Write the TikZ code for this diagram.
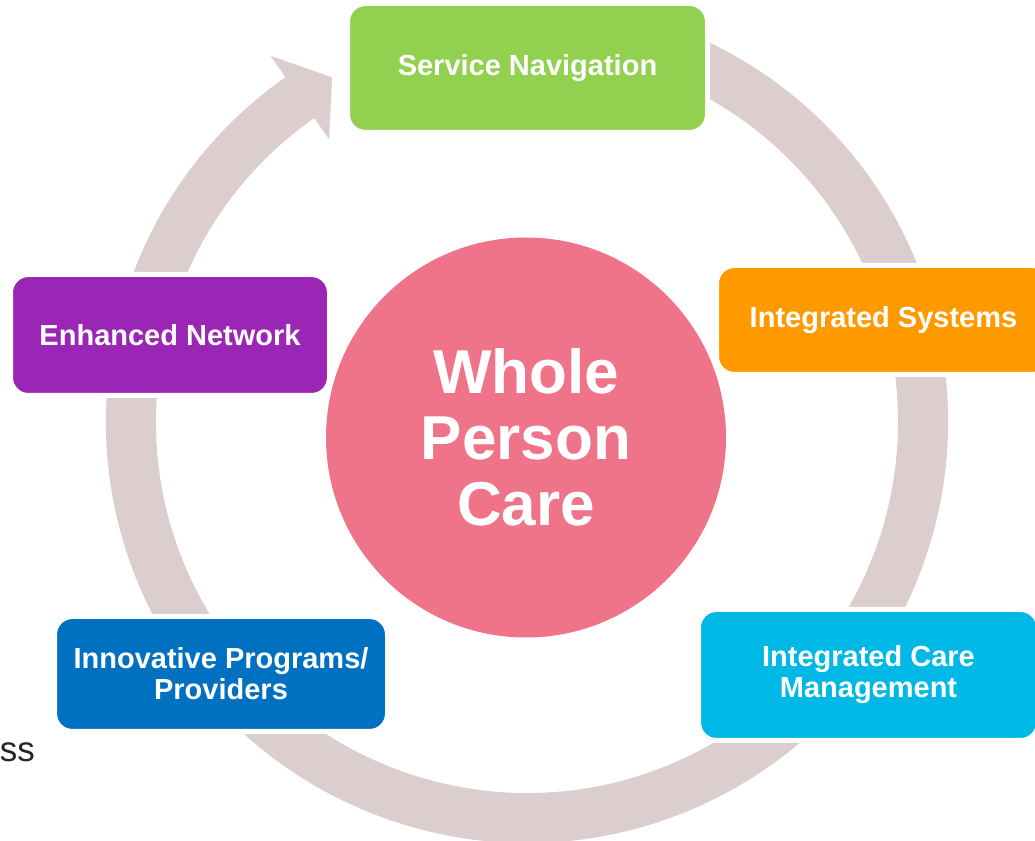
\documentclass[tikz,border=0pt]{standalone}
\usepackage{fontspec}
\setmainfont{Liberation Sans}
\definecolor{ringgray}{HTML}{DCCDCE}
\definecolor{carepink}{HTML}{F07489}
\definecolor{navgreen}{HTML}{92D050}
\definecolor{sysorange}{HTML}{FF9900}
\definecolor{mgmtcyan}{HTML}{00B8E5}
\definecolor{progblue}{HTML}{0070C0}
\definecolor{netpurple}{HTML}{9B26B6}
\begin{document}
\begin{tikzpicture}[x=1pt,y=1pt,
	box/.style={draw=white, line width=5pt, rounded corners=18pt, inner sep=0pt,
		text=white, align=center, font=\fontsize{29}{31}\selectfont\bfseries}]
	\useasboundingbox (0,0) rectangle (1035,840);
	\clip (0,0) rectangle (1035,840);

	% cycle ring with its arrow head
	\begin{scope}[shift={(527,418)}]
		\fill[ringgray] (70:421) arc[start angle=70, end angle=-235, radius=421pt]
			-- (-235:371) arc[start angle=-235, end angle=70, radius=371pt] -- cycle;
		\fill[ringgray] (125:447) -- (119.5:396) -- (125:345) -- cycle;
	\end{scope}

	\node[circle, fill=carepink, minimum size=400pt, inner sep=0pt, text=white, align=center,
		font=\fontsize{62}{66}\selectfont\bfseries] (wpc) at (526,402.5) {Whole\\Person\\Care};

	\node[box, fill=navgreen, minimum width=360pt, minimum height=129pt] (nav) at (527.5,772) {Service Navigation};
	\node[box, fill=sysorange, minimum width=334pt, minimum height=109pt] (sys) at (883.5,520) {Integrated Systems};
	\node[box, fill=mgmtcyan, minimum width=340pt, minimum height=131pt] (mgmt) at (868.5,165) {Integrated Care\\Management};
	\node[box, fill=progblue, minimum width=333pt, minimum height=115pt] (prog) at (221,166) {Innovative Programs/\\Providers};
	\node[box, fill=netpurple, minimum width=319pt, minimum height=121pt] (net) at (170,505) {Enhanced Network};

	\node[anchor=base east, inner sep=0pt, text=black!85, font=\fontsize{35}{40}\selectfont] (ss) at (35,78) {ss};
\end{tikzpicture}
\end{document}
